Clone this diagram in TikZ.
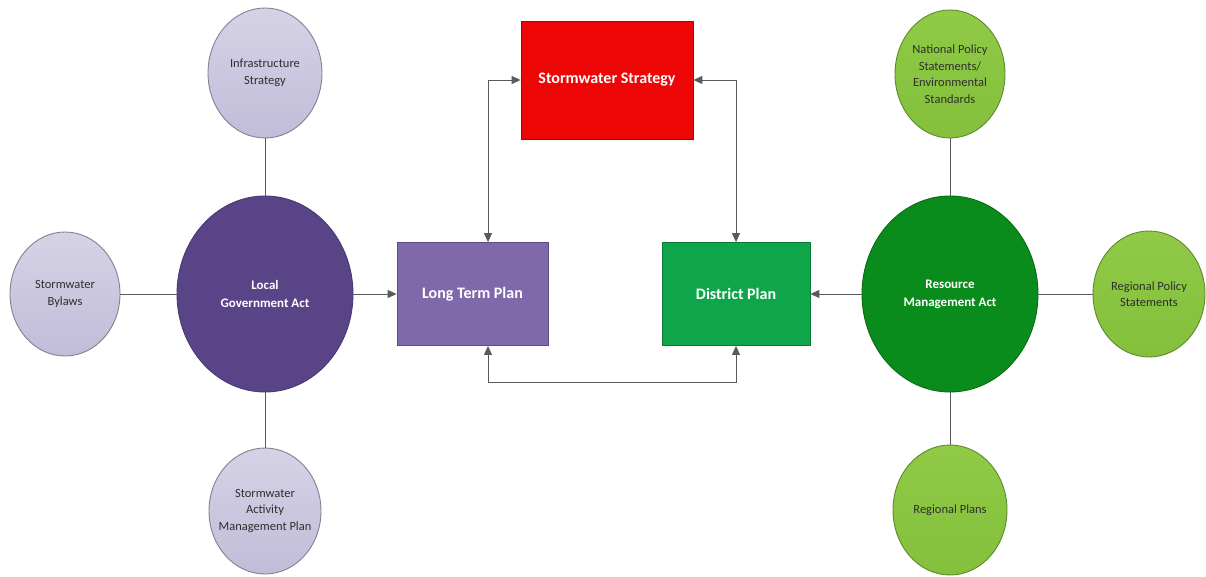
\documentclass[tikz,border=0pt]{standalone}
\usepackage{fontspec}
\setmainfont{Carlito}
\usetikzlibrary{shapes.geometric,arrows.meta,calc}
\definecolor{lpurpT}{HTML}{D6D2E6}
\definecolor{lpurpB}{HTML}{C2BCD9}
\definecolor{lpurpD}{HTML}{858090}
\definecolor{dpurp}{HTML}{5A4488}
\definecolor{dpurpD}{HTML}{4A3870}
\definecolor{mpurp}{HTML}{8069AA}
\definecolor{mpurpD}{HTML}{5E4C80}
\definecolor{ssred}{HTML}{EE0606}
\definecolor{ssredD}{HTML}{B00000}
\definecolor{dpgreen}{HTML}{0FA54A}
\definecolor{dpgreenD}{HTML}{0A7A36}
\definecolor{rmagreen}{HTML}{0A8C1C}
\definecolor{rmagreenD}{HTML}{0A6A16}
\definecolor{lgreenT}{HTML}{90CA46}
\definecolor{lgreenB}{HTML}{84C03C}
\definecolor{lgreenD}{HTML}{5C8A2C}
\definecolor{txtdark}{HTML}{2E2E2E}
\definecolor{conn}{HTML}{5A5A5A}
\tikzset{
  smalltext/.style={align=center, font=\fontsize{12.5}{16.5}\selectfont, text=txtdark, inner sep=0pt},
  lpurpell/.style={ellipse, draw=lpurpD, line width=0.9pt, top color=lpurpT, bottom color=lpurpB,
    inner sep=0pt, label={[smalltext]center:#1}},
  lgreenell/.style={ellipse, draw=lgreenD, line width=0.9pt, top color=lgreenT, bottom color=lgreenB,
    inner sep=0pt, label={[smalltext]center:#1}},
  bigell/.style={ellipse, line width=0.9pt, inner sep=0pt, align=center,
    font=\bfseries\fontsize{13}{18}\selectfont, text=white},
  planbox/.style={rectangle, line width=0.8pt, inner sep=0pt, align=center,
    font=\bfseries\fontsize{16}{19}\selectfont},
  link/.style={draw=conn, line width=0.9pt},
  arr/.style={draw=conn, line width=0.9pt, -{Triangle[length=9pt,width=8pt]}},
  darr/.style={draw=conn, line width=0.9pt, {Triangle[length=9pt,width=8pt]}-{Triangle[length=9pt,width=8pt]}}
}
\begin{document}
\begin{tikzpicture}[x=1pt,y=-1pt]
\useasboundingbox[fill=white] (0,0) rectangle (1206,576);
% left cluster
\node[lpurpell={Infrastructure\\Strategy}, minimum width=114pt, minimum height=130pt] (inf) at (265,73) {};
\node[lpurpell={Stormwater\\Bylaws}, minimum width=110pt, minimum height=124pt] (byl) at (65,294) {};
\node[bigell, fill=dpurp, draw=dpurpD, minimum width=176pt, minimum height=196pt] (lga) at (265,294) {Local\\Government Act};
\node[lpurpell={Stormwater\\Activity\\Management Plan}, minimum width=112pt, minimum height=126pt] (samp) at (265,511) {};
% boxes
\node[planbox, fill=mpurp, draw=mpurpD, text=white, minimum width=151pt, minimum height=103pt] (ltp) at (472.5,294) {Long Term Plan};
\node[planbox, fill=ssred, draw=ssredD, text=white, minimum width=172pt, minimum height=118pt] (ss) at (607,80) {Stormwater Strategy};
\node[planbox, fill=dpgreen, draw=dpgreenD, text=white, minimum width=148pt, minimum height=103pt] (dp) at (736,294) {District Plan};
% right cluster
\node[bigell, fill=rmagreen, draw=rmagreenD, minimum width=176pt, minimum height=196pt] (rma) at (950,294) {Resource\\Management Act};
\node[lgreenell={National Policy\\Statements/\\Environmental\\Standards}, minimum width=110pt, minimum height=128pt] (nps) at (950,74) {};
\node[lgreenell={Regional Policy\\Statements}, minimum width=112pt, minimum height=126pt] (rps) at (1149,294) {};
\node[lgreenell={Regional Plans}, minimum width=114pt, minimum height=130pt] (rp) at (950,510) {};
% connectors
\draw[link] (inf.south) -- (lga.north);
\draw[link] (byl.east) -- (lga.west);
\draw[link] (lga.south) -- (samp.north);
\draw[arr] (lga.east) -- (ltp.west);
\draw[link] (nps.south) -- (rma.north);
\draw[link] (rma.east) -- (rps.west);
\draw[link] (rma.south) -- (rp.north);
\draw[arr] (rma.west) -- (dp.east);
\draw[darr] ($(ltp.north)+(15.5,0)$) |- (ss.west);
\draw[darr] (ss.east) -| (dp.north);
\draw[darr] ($(ltp.south)+(15.5,0)$) -- ++(0,37) -| (dp.south);
\end{tikzpicture}
\end{document}
